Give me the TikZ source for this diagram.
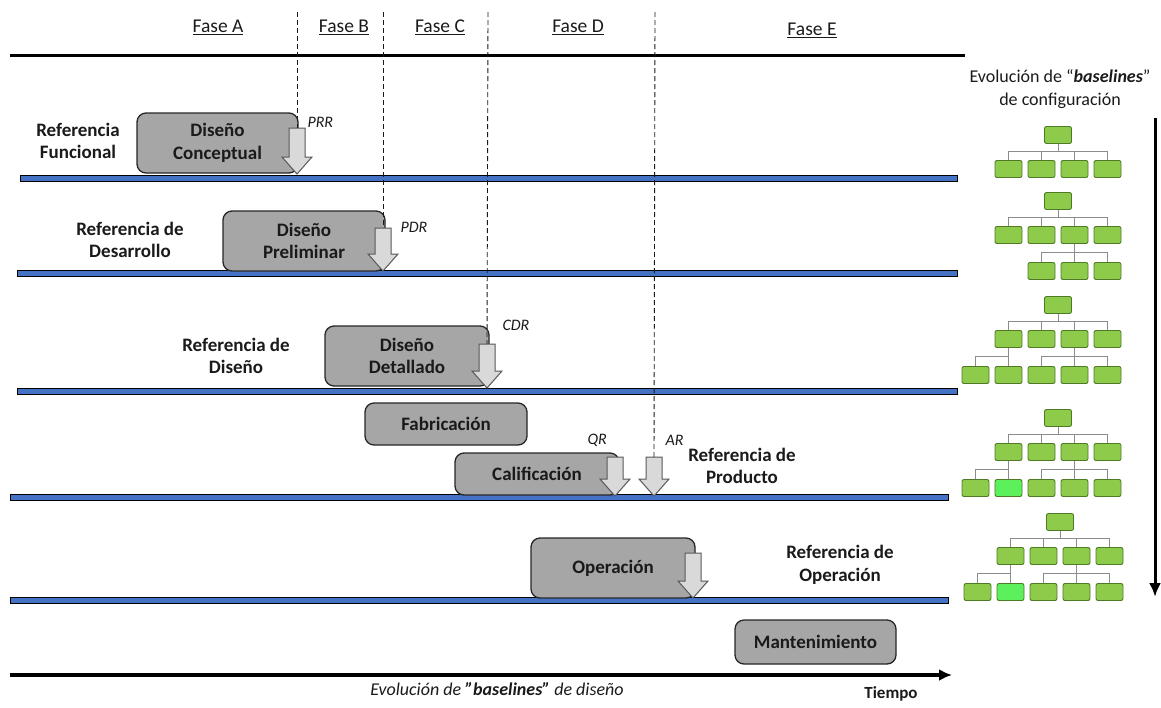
\documentclass[tikz,border=0pt]{standalone}
\usepackage{fontspec}
\setmainfont{Carlito}
\usetikzlibrary{arrows.meta}
\definecolor{boxgray}{HTML}{A6A6A6}
\definecolor{boxedge}{HTML}{262626}
\definecolor{arrfill}{HTML}{D9D9D9}
\definecolor{arredge}{HTML}{595959}
\definecolor{barblue}{HTML}{4472C4}
\definecolor{leafgreen}{HTML}{8FCB4B}
\definecolor{leafedge}{HTML}{4E7A26}
\definecolor{leafnew}{HTML}{5CF05C}
\definecolor{treeline}{HTML}{8C8C8C}
\definecolor{ink}{HTML}{1A1A1A}

% block arrow pointing down: name, x, top y, tip y
\newcommand\droparrow[4]{%
  \path[blockarr] (#2-8,#3) -- (#2+8,#3) -- (#2+8,#4-17) -- (#2+15,#4-17)
    -- (#2,#4) -- (#2-15,#4-17) -- (#2-8,#4-17) -- cycle;
  \coordinate (#1) at (#2,#3);
}
% configuration tree: root and four children
\newcommand\cfgtop[3]{%
  \node[tbox] (#1r) at (#2,#3) {};
  \node[tbox] (#1c1) at (#2-49.5,#3+34) {};
  \node[tbox] (#1c2) at (#2-16.5,#3+34) {};
  \node[tbox] (#1c3) at (#2+16.5,#3+34) {};
  \node[tbox] (#1c4) at (#2+49.5,#3+34) {};
  \draw[tline] (#1r.south) -- ++(0,8.5);
  \draw[tline] (#1c1.north) -- ++(0,-8.5) -| (#1c4.north);
  \draw[tline] (#1c2.north) -- ++(0,-8.5);
  \draw[tline] (#1c3.north) -- ++(0,-8.5);
}
% three leaves under the third child
\newcommand\cfgright[3]{%
  \node[tbox] (#1g3) at (#2-16.5,#3+70) {};
  \node[tbox] (#1g4) at (#2+16.5,#3+70) {};
  \node[tbox] (#1g5) at (#2+49.5,#3+70) {};
  \draw[tline] (#1c3.south) -- ++(0,9.5);
  \draw[tline] (#1g3.north) -- ++(0,-9.5) -| (#1g5.north);
  \draw[tline] (#1g4.north) -- ++(0,-9.5);
}
% two leaves under the first child (#4: style of the second leaf)
\newcommand\cfgleft[4]{%
  \node[tbox] (#1g1) at (#2-82.5,#3+70) {};
  \node[tbox,#4] (#1g2) at (#2-49.5,#3+70) {};
  \draw[tline] (#1c1.south) -- ++(0,9.5);
  \draw[tline] (#1g1.north) -- ++(0,-9.5) -| (#1g2.north);
}

\begin{document}
\begin{tikzpicture}[x=1pt,y=-1pt,
  phase/.style={font=\fontsize{19.5}{22}\selectfont, text=ink},
  lbl/.style={font=\fontsize{19}{22.5}\selectfont\bfseries, align=center, text=ink},
  gate/.style={font=\fontsize{16}{18}\selectfont\itshape, text=ink, anchor=west},
  task/.style={draw=boxedge, line width=1.3pt, fill=boxgray, rounded corners=9pt,
    font=\fontsize{19}{22.5}\selectfont\bfseries, align=center, text=ink, inner sep=0pt},
  blockarr/.style={draw=arredge, fill=arrfill, line width=1pt, line join=miter},
  bar/.style={draw=black, fill=barblue, line width=1pt},
  dashline/.style={draw=ink, line width=0.9pt, dash pattern=on 5pt off 3pt},
  tbox/.style={draw=leafedge, fill=leafgreen, line width=0.9pt, rounded corners=2pt,
    minimum width=27pt, minimum height=17pt, inner sep=0pt},
  newleaf/.style={fill=leafnew},
  tline/.style={draw=treeline, line width=1pt}
]
\useasboundingbox (0,0) rectangle (1161,707);

% phase headings
\node[phase] (fa) at (218,27) {\underline{Fase A}};
\node[phase] (fb) at (344,27) {\underline{Fase B}};
\node[phase] (fc) at (440,27) {\underline{Fase C}};
\node[phase] (fd) at (578,27) {\underline{Fase D}};
\node[phase] (fe) at (812,30) {\underline{Fase E}};
\coordinate (tlL) at (10,55);
\coordinate (tlR) at (965,55);
\draw[line width=3pt] (tlL) -- (tlR);

% baselines
\path[bar] (20,175) rectangle (957,181);
\path[bar] (17,270) rectangle (957,276);
\path[bar] (17,388) rectangle (957,394);
\path[bar] (10,494) rectangle (948,500);
\path[bar] (10,597) rectangle (948,603);

% phase boundaries
\coordinate (dA) at (297,12);
\coordinate (dB) at (383,12);
\coordinate (dC) at (488,12);
\coordinate (dD) at (655,12);

% activities
\node[task, minimum width=161pt, minimum height=60pt] (dc) at (217.5,143) {Diseño\\Conceptual};
\node[task, minimum width=162pt, minimum height=60pt] (dp) at (304,241) {Diseño\\Preliminar};
\node[task, minimum width=164pt, minimum height=60pt] (dd) at (407,356) {Diseño\\Detallado};
\node[task, minimum width=162pt, minimum height=42pt] (fab) at (446,424) {Fabricación};
\node[task, minimum width=164pt, minimum height=42pt] (cal) at (537,474) {Calificación};
\node[task, minimum width=164pt, minimum height=60pt] (op) at (613,568) {Operación};
\node[task, minimum width=161pt, minimum height=44pt] (mant) at (815.5,642) {Mantenimiento};

% reviews
\droparrow{aPRR}{297}{128}{174}
\droparrow{aPDR}{383}{228}{271}
\droparrow{aCDR}{487}{344}{388}
\droparrow{aQR}{615}{457}{496}
\droparrow{aAR}{654}{457}{496}
\droparrow{aOP}{693}{553}{598}

\draw[dashline] (dA) -- (aPRR);
\draw[dashline] (dB) -- (aPDR);
\draw[dashline] (dC) -- (aCDR);
\draw[dashline] (dD) -- (aAR);

\node[gate] (lPRR) at (304,122) {PRR};
\node[gate] (lPDR) at (397,227) {PDR};
\node[gate] (lCDR) at (499,325) {CDR};
\node[gate] (lQR) at (584,440) {QR};
\node[gate] (lAR) at (662,440) {AR};

% baseline names
\node[lbl] (rf) at (78,141) {Referencia\\Funcional};
\node[lbl] (rd) at (130,240) {Referencia de\\Desarrollo};
\node[lbl] (rdi) at (236,356) {Referencia de\\Diseño};
\node[lbl] (rp) at (742,466) {Referencia de\\Producto};
\node[lbl] (ro) at (840,565) {Referencia de\\Operación};

% configuration baselines
\node[font=\fontsize{18}{23}\selectfont, align=center, text=ink] (cfgt) at (1060,89)
  {Evolución de “\textbf{\itshape baselines}”\\de configuración};
\coordinate (vTop) at (1155,118);
\coordinate (vBot) at (1155,597);
\draw[line width=3pt, -{Latex[length=14pt,width=12pt]}] (vTop) -- (vBot);

\cfgtop{ta}{1058}{135}
\cfgtop{tb}{1058}{201}
\cfgright{tb}{1058}{201}
\cfgtop{tc}{1058}{305}
\cfgright{tc}{1058}{305}
\cfgleft{tc}{1058}{305}{}
\cfgtop{td}{1058}{418}
\cfgright{td}{1058}{418}
\cfgleft{td}{1058}{418}{newleaf}
\cfgtop{te}{1060}{522}
\cfgright{te}{1060}{522}
\cfgleft{te}{1060}{522}{newleaf}

% time axis
\coordinate (axL) at (10,675);
\coordinate (axR) at (952,675);
\draw[line width=3.5pt, -{Latex[length=13pt,width=12pt]}] (axL) -- (axR);
\node[font=\fontsize{18}{21}\selectfont\itshape, text=ink] (evo) at (497,689)
  {Evolución de \textbf{"baselines"} de diseño};
\node[font=\fontsize{17}{20}\selectfont\bfseries, text=ink] (tiempo) at (891,694) {Tiempo};
\end{tikzpicture}
\end{document}
